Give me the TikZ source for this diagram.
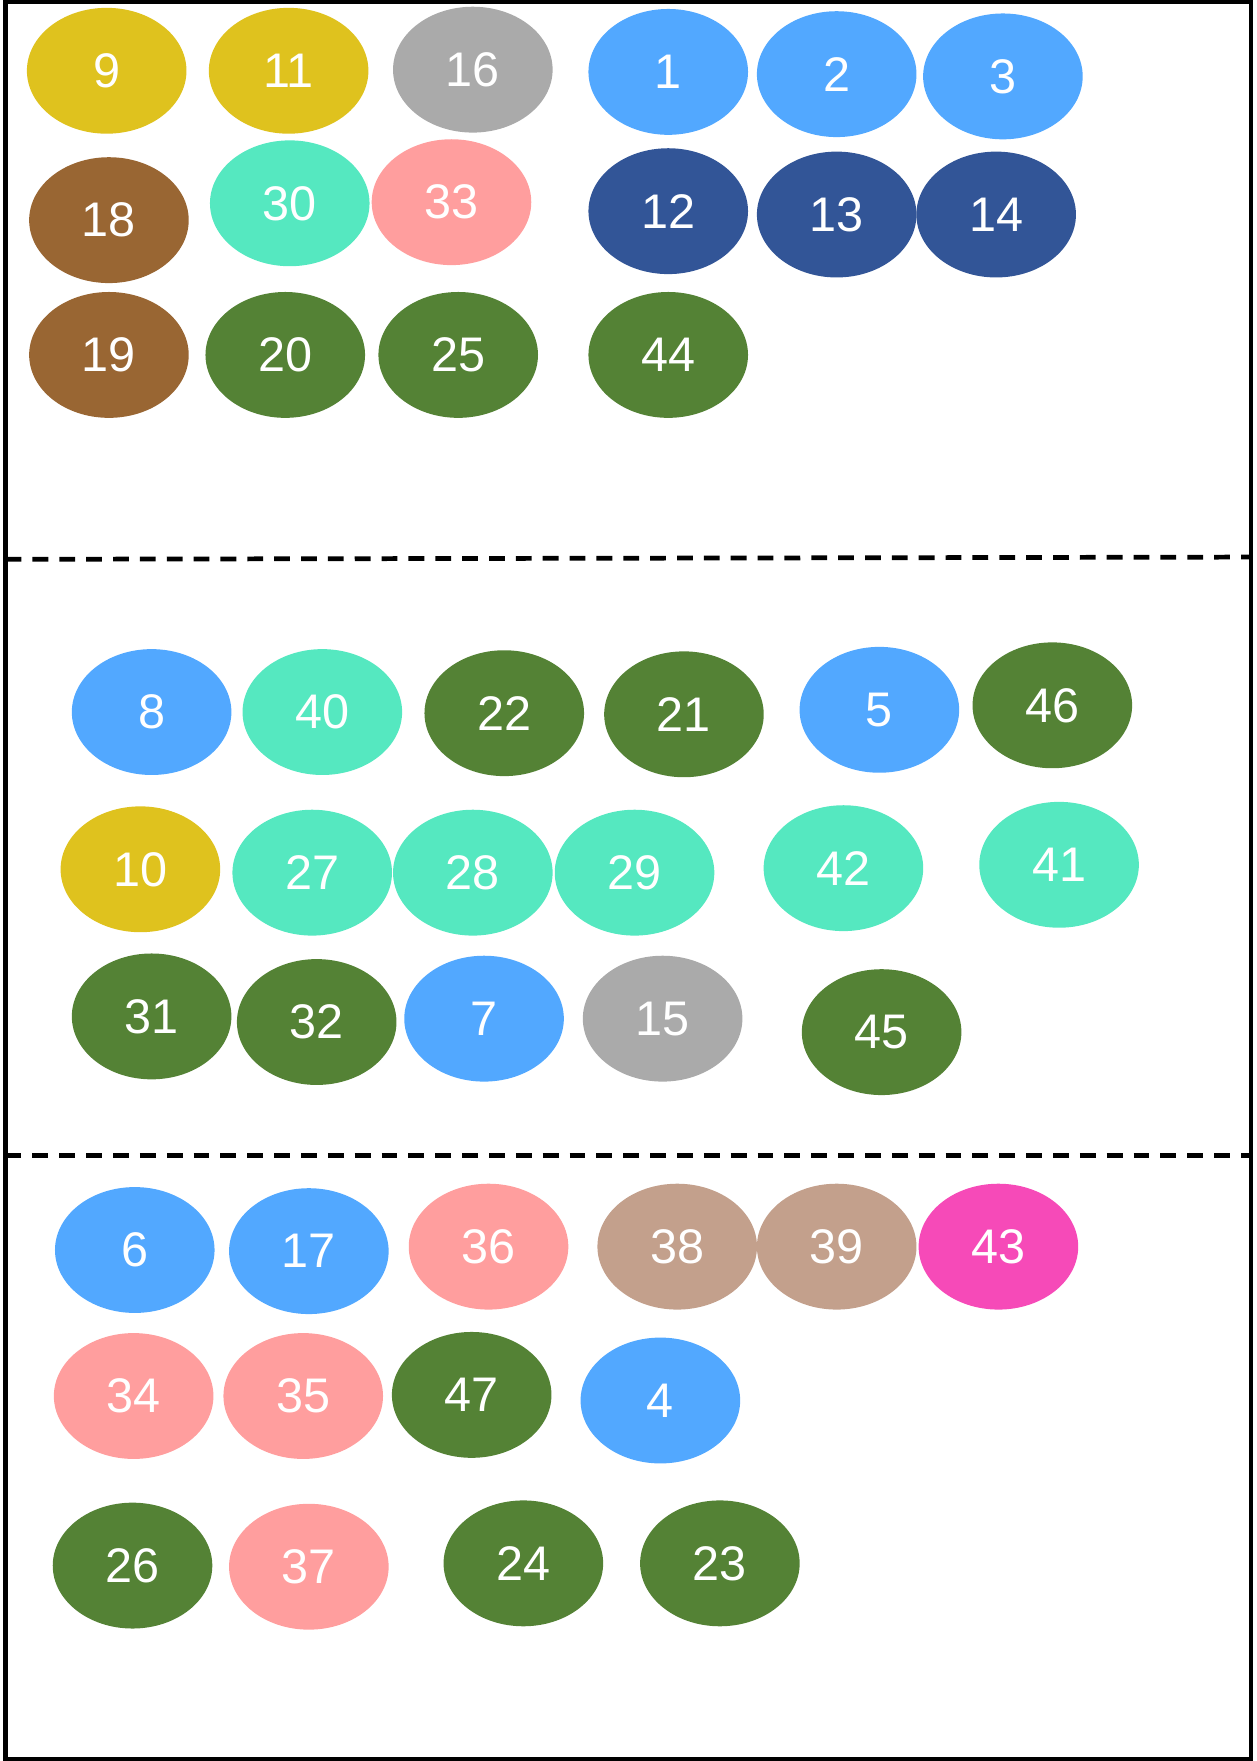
\documentclass[tikz,border=0pt]{standalone}
\usepackage{fontspec}
\setmainfont{Liberation Sans}
\usepackage{tikz}
\usetikzlibrary{shapes.geometric}
\definecolor{grpyellow}{HTML}{DFC21E}
\definecolor{grpgray}{HTML}{AAAAAA}
\definecolor{grpblue}{HTML}{52A8FF}
\definecolor{grpnavy}{HTML}{325597}
\definecolor{grpbrown}{HTML}{996633}
\definecolor{grpteal}{HTML}{55E8C0}
\definecolor{grppink}{HTML}{FF9E9E}
\definecolor{grpgreen}{HTML}{548235}
\definecolor{grptan}{HTML}{C3A08C}
\definecolor{grpmagenta}{HTML}{F64AB8}

\begin{document}
\begin{tikzpicture}[x=0.01cm, y=-0.01cm]
  \tikzstyle{ball}=[ellipse, inner sep=0pt, minimum width=1.42cm, minimum height=1.12cm, text=white, font=\fontsize{12.3}{13}\selectfont]
  \tikzstyle{frame}=[line width=1.1pt, color=black]
  \tikzstyle{split}=[line width=1.2pt, dash pattern=on 4pt off 2.8pt]

  \useasboundingbox (0,0) rectangle (1119,1568);
  \draw[frame] (5,2) rectangle (1114,1566);
  \coordinate (splitAw) at (5,498);
  \coordinate (splitAe) at (1114,496);
  \coordinate (splitBw) at (5,1029);
  \coordinate (splitBe) at (1114,1029);
  \draw[split] (splitAw) -- (splitAe);
  \draw[split] (splitBw) -- (splitBe);

  % top section
  \node[ball, fill=grpyellow] (n9) at (95,63) {9};
  \node[ball, fill=grpyellow] (n11) at (257,63) {11};
  \node[ball, fill=grpgray] (n16) at (421,62) {16};
  \node[ball, fill=grpblue] (n1) at (595,64) {1};
  \node[ball, fill=grpblue] (n2) at (745,66) {2};
  \node[ball, fill=grpblue] (n3) at (893,68) {3};

  \node[ball, fill=grpbrown] (n18) at (97,196) {18};
  \node[ball, fill=grpteal] (n30) at (258,181) {30};
  \node[ball, fill=grppink] (n33) at (402,180) {33};
  \node[ball, fill=grpnavy] (n12) at (595,188) {12};
  \node[ball, fill=grpnavy] (n13) at (745,191) {13};
  \node[ball, fill=grpnavy] (n14) at (887,191) {14};

  \node[ball, fill=grpbrown] (n19) at (97,316) {19};
  \node[ball, fill=grpgreen] (n20) at (254,316) {20};
  \node[ball, fill=grpgreen] (n25) at (408,316) {25};
  \node[ball, fill=grpgreen] (n44) at (595,316) {44};

  % middle section
  \node[ball, fill=grpblue] (n8) at (135,634) {8};
  \node[ball, fill=grpteal] (n40) at (287,634) {40};
  \node[ball, fill=grpgreen] (n22) at (449,635) {22};
  \node[ball, fill=grpgreen] (n21) at (609,636) {21};
  \node[ball, fill=grpblue] (n5) at (783,632) {5};
  \node[ball, fill=grpgreen] (n46) at (937,628) {46};

  \node[ball, fill=grpyellow] (n10) at (125,774) {10};
  \node[ball, fill=grpteal] (n27) at (278,777) {27};
  \node[ball, fill=grpteal] (n28) at (421,777) {28};
  \node[ball, fill=grpteal] (n29) at (565,777) {29};
  \node[ball, fill=grpteal] (n42) at (751,773) {42};
  \node[ball, fill=grpteal] (n41) at (943,770) {41};

  \node[ball, fill=grpgreen] (n31) at (135,905) {31};
  \node[ball, fill=grpgreen] (n32) at (282,910) {32};
  \node[ball, fill=grpblue] (n7) at (431,907) {7};
  \node[ball, fill=grpgray] (n15) at (590,907) {15};
  \node[ball, fill=grpgreen] (n45) at (785,919) {45};

  % bottom section
  \node[ball, fill=grpblue] (n6) at (120,1113) {6};
  \node[ball, fill=grpblue] (n17) at (275,1114) {17};
  \node[ball, fill=grppink] (n36) at (435,1110) {36};
  \node[ball, fill=grptan] (n38) at (603,1110) {38};
  \node[ball, fill=grptan] (n39) at (745,1110) {39};
  \node[ball, fill=grpmagenta] (n43) at (889,1110) {43};

  \node[ball, fill=grppink] (n34) at (119,1243) {34};
  \node[ball, fill=grppink] (n35) at (270,1243) {35};
  \node[ball, fill=grpgreen] (n47) at (420,1242) {47};
  \node[ball, fill=grpblue] (n4) at (588,1247) {4};

  \node[ball, fill=grpgreen] (n26) at (118,1394) {26};
  \node[ball, fill=grppink] (n37) at (275,1395) {37};
  \node[ball, fill=grpgreen] (n24) at (466,1392) {24};
  \node[ball, fill=grpgreen] (n23) at (641,1392) {23};
\end{tikzpicture}
\end{document}
